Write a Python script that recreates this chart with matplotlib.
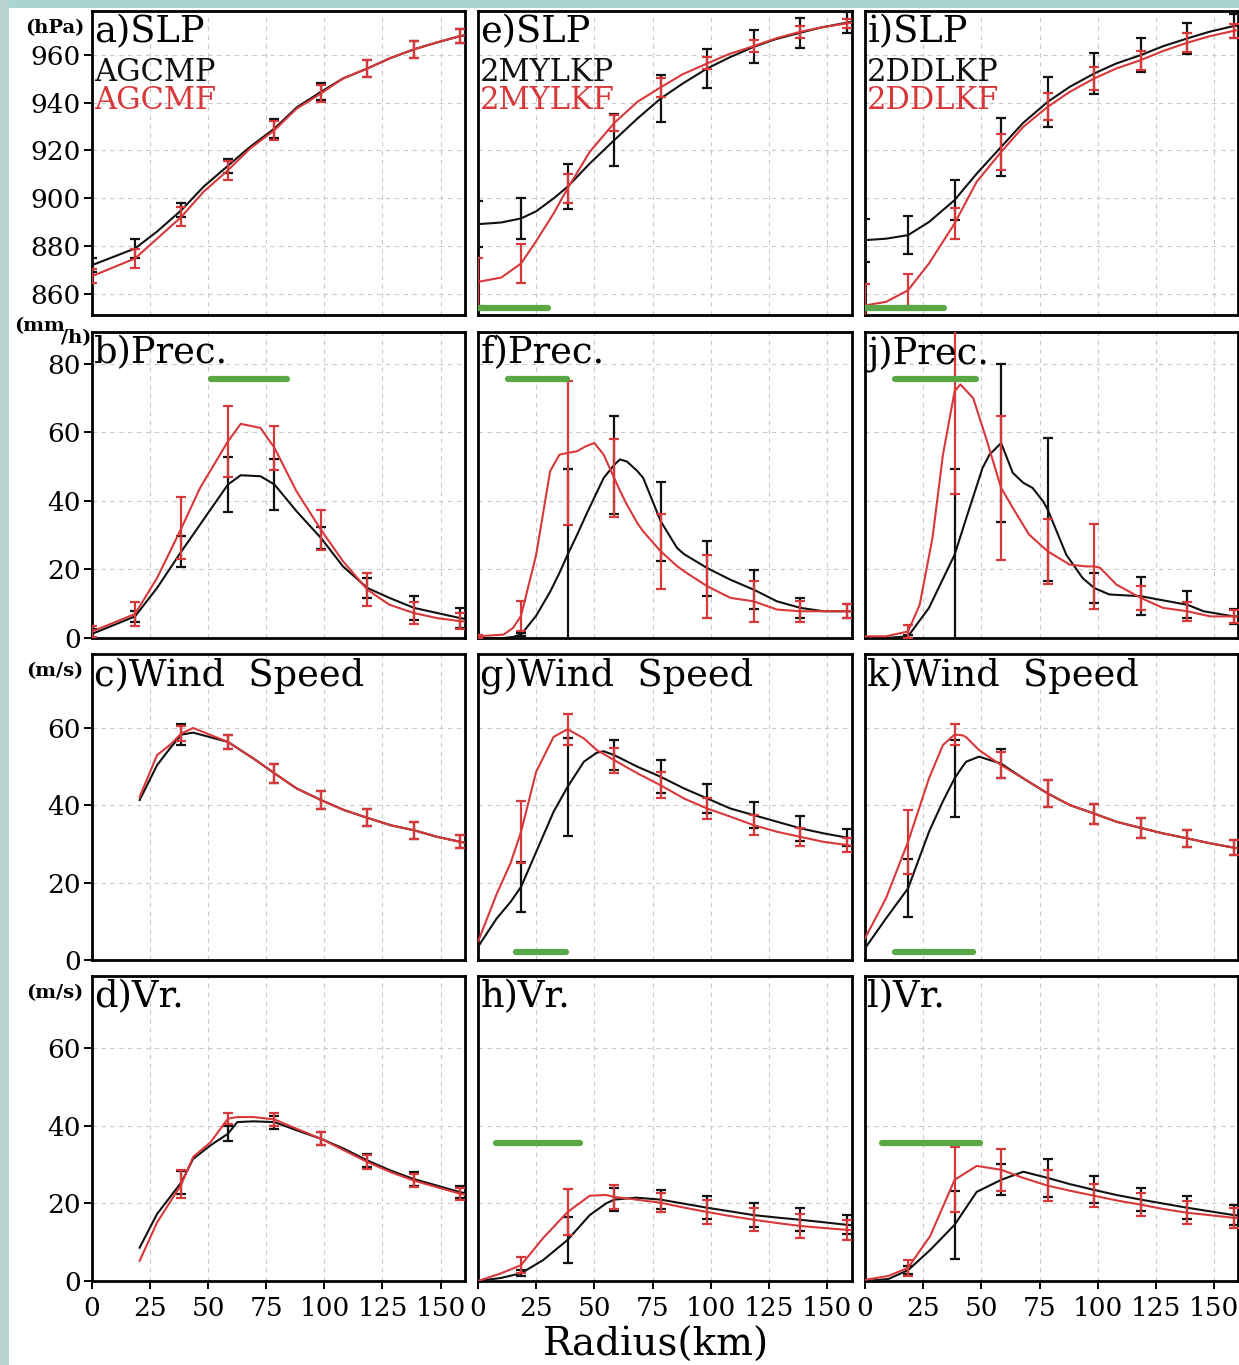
#!/usr/bin/env python3
"""
plot.py
Radial profiles (0-160 km) of SLP, precipitation, wind speed and Vr for the
three experiment pairs AGCM / 2MYLK / 2DDLK.  P runs in black, F runs in red,
spread bars every ~20 km, green bars mark the significant ranges.
Writes out.png (1239 x 1365 px).
"""
import numpy as np
import matplotlib
matplotlib.use("Agg")
import matplotlib.pyplot as plt
from matplotlib.patches import Rectangle

nan = np.nan

# ---------------------------------------------------------------------------
# DATA
# ---------------------------------------------------------------------------
ERR_X = [0, 18.5, 38.5, 58.5, 78.5, 98.5, 118.5, 138.5, 158.5]

# a) SLP, AGCM
A_X = [0, 18.5, 28, 38.5, 48, 58.5, 68, 78.5, 88, 98.5, 108, 118.5, 128, 138.5, 148, 158.5, 160.5]
A_P = [871.9, 878.9, 886.0, 895.0, 904.8, 913.6, 921.5, 929.2, 938.0, 944.6, 950.2, 954.4, 958.6, 962.4, 965.2, 968.0, 968.3]
A_F = [867.3, 874.7, 883.0, 892.2, 902.7, 911.7, 920.8, 928.5, 937.5, 943.9, 950.2, 954.4, 958.6, 962.4, 965.2, 968.0, 968.3]
A_EP = [3, 4, 3, 3, 4, 3.5, 3.5, 3.5, 3]
A_EF = [3, 4, 4, 4, 4, 3.5, 3.5, 3.5, 3]

# e) SLP, 2MYLK
E_X = [0, 10, 18.5, 25, 32.5, 38.5, 48, 58.5, 68.5, 78.5, 88, 98.5, 108, 118.5, 128, 138.5, 148, 158.5, 160.5]
E_P = [889.1, 889.8, 891.5, 894.5, 899.9, 904.8, 914.5, 924.3, 933.4, 941.8, 948.1, 954.4, 959.0, 963.5, 966.7, 969.4, 971.7, 973.6, 974.0]
E_F = [864.9, 866.7, 872.6, 882.0, 893.6, 904.1, 919.4, 931.5, 940.4, 946.5, 952.0, 956.5, 960.5, 963.8, 967.0, 969.8, 971.7, 973.3, 973.6]
E_EP = [9.7, 8.7, 9.5, 11, 10, 8, 7, 6.3, 4.5]
E_EF = [10, 8, 6, 3.5, 4, 2.5, 2.5, 2.5, 2]

# i) SLP, 2DDLK
I_X = [0, 9, 18.5, 27.5, 38.5, 48, 58.5, 68, 78.5, 88, 98.5, 108, 118.5, 128, 138.5, 148, 158.5, 160.5]
I_P = [882.4, 883.0, 884.5, 890.0, 899.2, 910.3, 921.5, 931.6, 940.4, 946.7, 952.3, 956.5, 960.0, 963.7, 967.0, 969.8, 972.2, 972.5]
I_F = [855.0, 856.5, 861.4, 872.6, 889.4, 906.9, 919.4, 929.9, 938.3, 944.6, 950.2, 954.4, 957.9, 961.7, 965.2, 967.9, 970.2, 970.5]
I_EP = [9, 8, 8.4, 12, 10.5, 8.7, 7, 6.4, 5]
I_EF = [9, 6.6, 6.6, 7.7, 5.6, 5, 4, 4, 3]

# b) Prec., AGCM
B_X = [0, 18.5, 28, 38.5, 46.5, 58.5, 64, 72.5, 78.5, 88, 98.5, 108, 118.5, 128, 138.5, 148.5, 158.5, 160.5]
B_P = [1.2, 6.3, 14.6, 25.3, 33.1, 44.8, 47.5, 47.2, 44.8, 37.0, 29.2, 20.9, 14.6, 11.7, 8.8, 7.3, 5.8, 5.6]
B_F = [1.9, 7.0, 17.5, 32.1, 43.8, 57.4, 62.5, 61.3, 55.5, 42.8, 31.6, 22.4, 14.1, 9.7, 7.3, 5.8, 4.9, 4.8]
B_EP = [1.5, 1.6, 4.5, 8, 7.3, 3.2, 2.9, 3.6, 2.9]
B_EF = [1.5, 3.4, 9, 10.4, 6.4, 5.8, 4.9, 3.2, 2.4]

# f) Prec., 2MYLK
F_X = [0, 11, 15, 18.5, 25, 31, 35, 38.5, 42.5, 46.5, 50, 54, 58.5, 61, 64, 68.5, 71, 78.5, 85.5, 88.5,
       98.5, 108.5, 118.5, 128.5, 138.5, 148.5, 158.5, 160.5]
F_P = [0, 0, 0.3, 1.0, 6.5, 13.5, 19.0, 24.3, 30.0, 36.0, 41.0, 46.7, 50.5, 52.1, 51.5, 48.7, 46.7, 34.1, 26.3, 24.5,
       20.4, 17.0, 14.1, 10.7, 8.8, 7.8, 7.8, 7.8]
F_F = [0.5, 1.0, 2.9, 6.5, 24.3, 48.7, 53.5, 54.0, 54.5, 56.0, 56.9, 53.5, 46.7, 43.0, 38.9, 33.5, 31.1, 25.3, 21.0, 19.5,
       15.1, 11.7, 10.7, 8.3, 7.8, 7.8, 7.8, 7.8]
F_EP = [0.5, 0.5, 25, 14.4, 11.5, 8, 5.6, 3, 2]
F_EF = [0.5, 4.4, 21, 11.5, 11, 9.2, 6, 3, 2]

# j) Prec., 2DDLK (black and red sampled separately)
J_XP = [0, 9, 18.5, 27.5, 38.5, 44, 50.5, 53.5, 58.5, 63.5, 68, 72, 76.5, 78.5, 86.5, 93.5, 98.5, 105,
        118.5, 128, 138.5, 145.5, 158.5, 160.5]
J_P = [0, 0, 0.5, 8.8, 24.3, 36.0, 49.6, 53.5, 56.9, 48.2, 45.3, 43.8, 39.9, 37.5, 24.3, 17.5, 14.6, 12.7,
       12.2, 11.0, 9.7, 7.8, 6.3, 6.3]
J_XF = [0, 9, 18.5, 23.5, 29, 33.5, 38.5, 41, 46.5, 52, 58.5, 63.5, 70.5, 78.5, 88, 95, 98.5, 101, 108,
        118.5, 128, 138.5, 148.5, 158.5, 160.5]
J_F = [0.5, 0.5, 1.9, 9.7, 29.2, 53.5, 72.0, 74.0, 70.0, 58.4, 43.8, 38.0, 30.2, 25.3, 21.4, 20.9, 20.9, 20.5, 15.6,
       11.7, 8.8, 7.8, 6.3, 6.3, 6.3]
J_EP = [nan, 0.5, 25, 23, 21, 4.4, 5.6, 4, 2.2]
J_EF = [nan, 2, 30, 21, 9.5, 12.4, 3.6, 2.7, 2]

# c) Wind Speed, AGCM
C_X = [20.5, 28, 33.5, 38.5, 43.5, 58.5, 69.5, 78.5, 88, 98.5, 108.5, 118.5, 128.5, 138.5, 148.5, 158.5, 160.5]
C_P = [41.3, 50.3, 54.6, 58.2, 58.7, 56.3, 52.0, 48.2, 44.3, 41.3, 38.7, 36.7, 34.8, 33.5, 31.8, 30.5, 30.3]
C_F = [42.1, 52.9, 55.5, 58.5, 59.9, 56.3, 52.0, 48.2, 44.3, 41.3, 38.7, 36.7, 34.8, 33.5, 31.8, 30.5, 30.3]
C_EP = [nan, nan, 2.8, 1.7, 2.4, 2.4, 2.2, 2.2, 1.7]
C_EF = [nan, nan, 2, 1.7, 2.4, 2.4, 2.2, 2.2, 1.7]

# g) Wind Speed, 2MYLK
G_X = [0, 8, 14, 18.5, 25, 32.5, 38.5, 45.5, 51, 54, 58.5, 68.5, 78.5, 88.5, 98.5, 108.5, 118.5, 128.5,
       138.5, 148.5, 158.5, 160.5]
G_P = [3.4, 10.7, 15.0, 18.9, 27.9, 38.3, 44.7, 51.2, 53.5, 53.9, 52.9, 49.9, 47.3, 44.3, 41.7, 39.1, 37.4, 35.7,
       34.0, 32.7, 31.6, 31.4]
G_F = [4.7, 17.0, 25.0, 33.1, 48.6, 57.6, 59.6, 57.2, 54.2, 53.2, 51.6, 48.2, 45.1, 41.7, 39.1, 37.0, 34.8, 33.1,
       31.8, 30.5, 29.7, 29.5]
G_EP = [nan, 6.5, 12.7, 3.9, 4.3, 3.7, 3.4, 3.2, 2.1]
G_EF = [nan, 8, 4, 3.2, 3.4, 2.8, 2.6, 2.4, 1.7]

# k) Wind Speed, 2DDLK
K_X = [0, 9, 18.5, 27.5, 33.5, 38.5, 42, 43.5, 49, 58.5, 68, 78.5, 88, 98.5, 108, 118.5, 128, 138.5, 148.5,
       158.5, 160.5]
K_P = [3.0, 10.7, 18.5, 33.1, 41.0, 46.9, 50.0, 51.2, 52.5, 50.7, 46.9, 43.0, 40.0, 37.8, 35.7, 34.1, 32.7, 31.4,
       30.1, 29.0, 28.8]
K_F = [5.6, 15.9, 30.5, 46.9, 55.5, 58.2, 58.0, 57.5, 54.2, 50.3, 46.9, 43.0, 40.0, 37.8, 35.7, 34.1, 32.7, 31.4,
       30.1, 29.0, 28.8]
K_EP = [nan, 7.5, 10, 3.7, 3.4, 2.6, 2.6, 2.2, 2]
K_EF = [nan, 8.2, 2.6, 3.4, 3.4, 2.6, 2.6, 2.2, 2]

# d) Vr, AGCM
D_X = [20.5, 28, 38.5, 43.5, 51, 58.5, 62.5, 69.5, 78.5, 88, 98.5, 108.5, 118.5, 128.5, 138.5, 148.5, 158.5, 160.5]
D_P = [8.6, 17.3, 25.5, 31.5, 35.0, 38.0, 41.0, 41.2, 41.0, 38.9, 36.7, 34.1, 31.1, 28.5, 26.3, 24.6, 22.9, 22.7]
D_F = [5.2, 15.1, 25.0, 32.0, 35.8, 41.9, 42.3, 42.3, 41.7, 39.3, 36.7, 33.7, 30.7, 28.1, 25.9, 24.2, 22.5, 22.3]
D_EP = [nan, nan, 3, 2, 1.7, 1.7, 1.7, 1.7, 1.5]
D_EF = [nan, nan, 3.7, 1.5, 1.7, 1.7, 1.7, 1.7, 1.5]

# h) Vr, 2MYLK
H_X = [0, 10, 18.5, 28, 38.5, 48, 55, 58.5, 68, 78.5, 88, 98.5, 108, 118.5, 128, 138.5, 148, 158.5, 160.5]
H_P = [0, 0.8, 2.0, 5.4, 10.6, 17.0, 20.0, 21.0, 21.5, 21.0, 20.0, 18.9, 18.0, 17.0, 16.4, 15.8, 15.2, 14.5, 14.4]
H_F = [0, 2.0, 4.1, 11.1, 17.8, 22.0, 22.2, 21.7, 21.0, 20.2, 19.0, 17.8, 16.8, 15.8, 15.0, 14.2, 13.7, 13.2, 13.1]
H_EP = [nan, 0.8, 6, 3, 2.5, 3, 3, 3, 2.5]
H_EF = [nan, 2, 6, 3, 2.5, 3, 3, 3, 2.5]

# l) Vr, 2DDLK
L_X = [0, 10, 18.5, 28, 38.5, 48, 58.5, 68, 78.5, 88, 98.5, 108, 118.5, 128, 138.5, 148, 158.5, 160.5]
L_P = [0, 0.5, 2.8, 8.0, 14.5, 23.0, 26.1, 28.2, 26.6, 25.0, 23.5, 22.2, 21.0, 20.0, 18.9, 18.0, 17.0, 16.9]
L_F = [0.3, 1.3, 3.4, 11.6, 26.1, 29.7, 28.7, 26.6, 24.6, 23.3, 22.0, 20.8, 19.7, 18.6, 17.6, 17.0, 16.3, 16.2]
L_EP = [nan, 1, 8.7, 4, 5, 3.5, 3, 3, 2.5]
L_EF = [nan, 2, 8.4, 5.4, 4, 3, 3, 3, 2.5]

# significant ranges (x0, x1, y at which the green bar is drawn)
SIG_E = (0, 30, 853.8)
SIG_I = (0, 34, 853.8)
SIG_B = (51, 84, 75.6)
SIG_F = (13, 38.3, 75.6)
SIG_J = (13, 47.8, 75.6)
SIG_G = (16.2, 37.9, 2.1)
SIG_K = (13, 46.5, 2.1)
SIG_H = (7.8, 44, 35.7)
SIG_L = (7.3, 49.6, 35.7)

ROW_TITLES = ["SLP", "Prec.", "Wind  Speed", "Vr."]
COL_RUNS = ["AGCM", "2MYLK", "2DDLK"]
LETTERS = [["a", "e", "i"], ["b", "f", "j"], ["c", "g", "k"], ["d", "h", "l"]]
UNITS = ["(hPa)", None, "(m/s)", "(m/s)"]
YTICKS = [[860, 880, 900, 920, 940, 960], [0, 20, 40, 60, 80], [0, 20, 40, 60], [0, 20, 40, 60]]
XTICKS = [0, 25, 50, 75, 100, 125, 150]

# ---------------------------------------------------------------------------
# SETTINGS
# ---------------------------------------------------------------------------
W, H = 1239, 1365
COL_PX = [(92, 465), (478, 851.5), (865, 1238.5)]
ROW_PX = [(11, 315), (332, 638), (654, 960), (976, 1281)]
YLIMS = [(851, 978.5), (0, 89.3), (0, 79), (0, 78.7)]
XLIM = (0, 160.5)
BLACK, RED, GREEN = "#111111", "#d8383a", "#5aa845"

plt.rcParams["font.family"] = "DejaVu Serif"

PANELS = [
    [(A_X, A_P, A_X, A_F, A_EP, A_EF, None),
     (E_X, E_P, E_X, E_F, E_EP, E_EF, SIG_E),
     (I_X, I_P, I_X, I_F, I_EP, I_EF, SIG_I)],
    [(B_X, B_P, B_X, B_F, B_EP, B_EF, SIG_B),
     (F_X, F_P, F_X, F_F, F_EP, F_EF, SIG_F),
     (J_XP, J_P, J_XF, J_F, J_EP, J_EF, SIG_J)],
    [(C_X, C_P, C_X, C_F, C_EP, C_EF, None),
     (G_X, G_P, G_X, G_F, G_EP, G_EF, SIG_G),
     (K_X, K_P, K_X, K_F, K_EP, K_EF, SIG_K)],
    [(D_X, D_P, D_X, D_F, D_EP, D_EF, None),
     (H_X, H_P, H_X, H_F, H_EP, H_EF, SIG_H),
     (L_X, L_P, L_X, L_F, L_EP, L_EF, SIG_L)],
]


def _rect(col, row):
    (x0, x1), (y0, y1) = COL_PX[col], ROW_PX[row]
    return [x0 / W, 1 - y1 / H, (x1 - x0) / W, (y1 - y0) / H]


def draw_series(ax, xs, ys, err, color, z):
    ax.plot(xs, ys, color=color, lw=1.5, zorder=z)
    ex = np.asarray(ERR_X, float)
    ee = np.asarray(err, float)
    ok = np.isfinite(ee) & (ex >= xs[0])
    ey = np.interp(ex[ok], xs, ys)
    ax.errorbar(ex[ok], ey, yerr=ee[ok], fmt="none", ecolor=color,
                elinewidth=1.6, capsize=3.5, capthick=1.6, zorder=z + 0.5)


def draw_panel(ax, row, col, spec):
    xp, yp, xf, yf, ep, ef, sig = spec
    draw_series(ax, xp, yp, ep, BLACK, 3)
    draw_series(ax, xf, yf, ef, RED, 4)
    if sig is not None:
        ax.plot(sig[:2], [sig[2]] * 2, color=GREEN, lw=4.5,
                solid_capstyle="round", zorder=6)

    ax.set_xlim(*XLIM)
    ax.set_ylim(*YLIMS[row])
    ax.set_xticks(XTICKS)
    ax.set_yticks(YTICKS[row])
    ax.grid(True, color="#c9c9c9", lw=0.8, ls=(0, (4, 4)))
    ax.set_axisbelow(True)
    for sp in ax.spines.values():
        sp.set_linewidth(2.0)

    ax.tick_params(direction="out", length=6, width=1.4, labelsize=19,
                   left=(col == 0), labelleft=(col == 0),
                   bottom=(row == 3), labelbottom=(row == 3))
    ax.tick_params(axis="y", pad=2)
    ax.tick_params(axis="x", pad=5)

    ax.text(0.006, 0.897, f"{LETTERS[row][col]}){ROW_TITLES[row]}",
            transform=ax.transAxes, fontsize=26.5, va="baseline", ha="left", zorder=7)
    if row == 0:
        ax.text(0.006, 0.771, COL_RUNS[col] + "P", color=BLACK,
                transform=ax.transAxes, fontsize=22, va="baseline", ha="left", zorder=7)
        ax.text(0.006, 0.676, COL_RUNS[col] + "F", color=RED,
                transform=ax.transAxes, fontsize=22, va="baseline", ha="left", zorder=7)


if __name__ == "__main__":
    fig = plt.figure(figsize=(W / 100, H / 100), dpi=100, facecolor="white")

    # screenshot border strips
    fig.add_artist(Rectangle((0, 1 - 8 / H), 1, 8 / H, transform=fig.transFigure,
                             facecolor="#a9d4d2", edgecolor="none", zorder=-5))
    fig.add_artist(Rectangle((0, 0), 9 / W, 1, transform=fig.transFigure,
                             facecolor="#b9d3d0", edgecolor="none", zorder=-5))

    for row in range(4):
        for col in range(3):
            ax = fig.add_axes(_rect(col, row))
            draw_panel(ax, row, col, PANELS[row][col])

    # unit labels on the left of column 1
    for row, unit in enumerate(UNITS):
        if unit is None:
            continue
        top = ROW_PX[row][0]
        fig.text(55 / W, 1 - (top + 17) / H, unit, fontsize=14, fontweight="bold",
                 ha="center", va="center")
    fig.text(40 / W, 1 - 326 / H, "(mm", fontsize=14, fontweight="bold",
             ha="center", va="center")
    fig.text(76 / W, 1 - 338 / H, "/h)", fontsize=14, fontweight="bold",
             ha="center", va="center")

    fig.text(656 / W, 1 - 1345 / H, "Radius(km)", fontsize=28, ha="center", va="center")

    fig.savefig("out.png", dpi=100, facecolor="white")
